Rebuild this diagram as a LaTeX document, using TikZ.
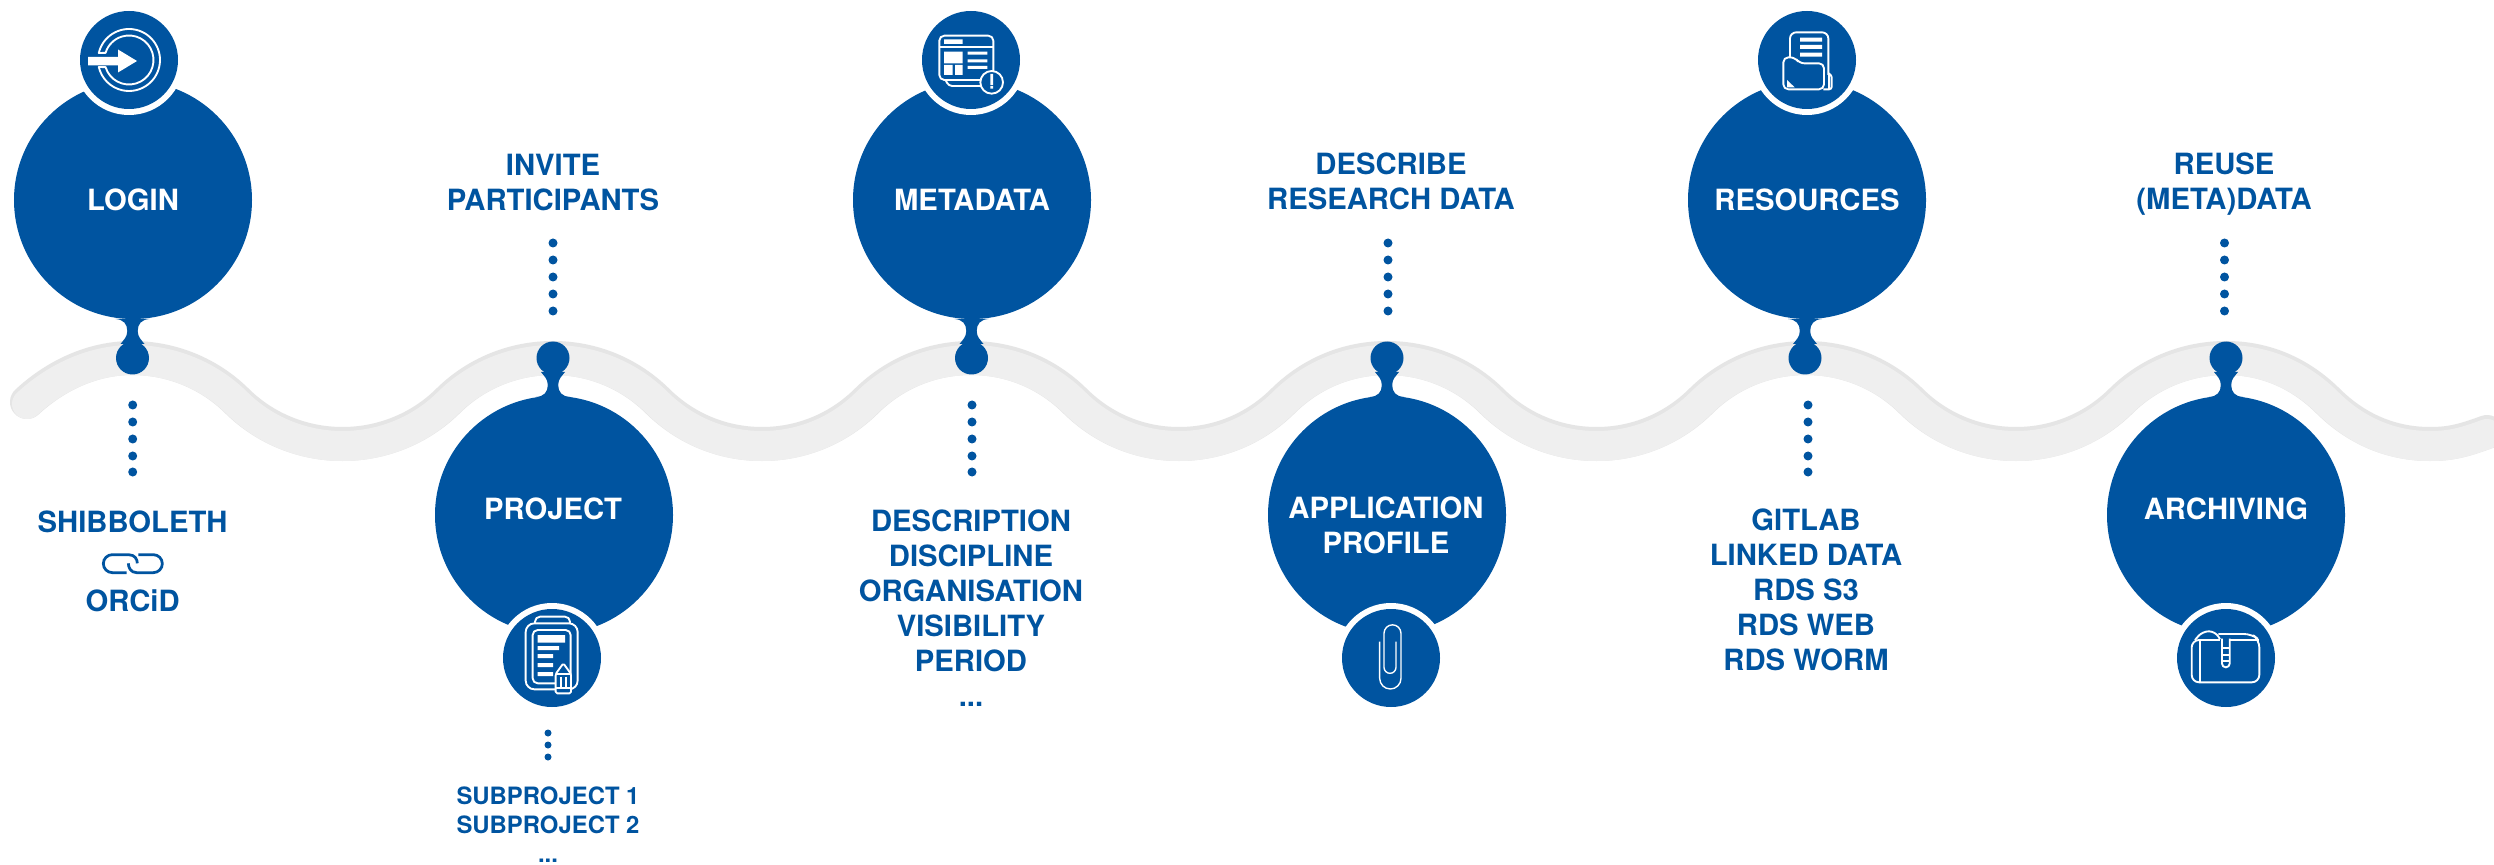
\documentclass[tikz,border=0pt]{standalone}
\usepackage{fontspec}
\setmainfont{TeX Gyre Heros}
\definecolor{brand}{HTML}{0054A0}
\definecolor{band}{HTML}{EFEFEF}
\definecolor{bandedge}{HTML}{E5E5E5}
\tikzset{
  bigdisc/.style={circle,fill=brand,minimum size=95.2pt,inner sep=0pt,text=white,align=center,
    font=\bfseries\fontsize{11.7}{14}\selectfont},
  ringdisc/.style={circle,fill=white,minimum size=44pt,inner sep=0pt},
  icondisc/.style={circle,fill=brand,minimum size=39.2pt,inner sep=0pt},
  disclabel/.style={text=white,align=center,inner sep=0pt,font=\bfseries\fontsize{11.7}{14}\selectfont},
  label/.style={text=brand,align=center,inner sep=0pt,font=\bfseries\fontsize{11.7}{14}\selectfont},
  smalllabel/.style={text=brand,align=center,inner sep=0pt,font=\bfseries\fontsize{9.55}{11.6}\selectfont},
  dotmark/.style={circle,fill=brand,minimum size=3.6pt,inner sep=0pt},
  smalldot/.style={circle,fill=brand,minimum size=2.8pt,inner sep=0pt},
  iconline/.style={draw=white,line width=0.75pt,line join=round},
  thinline/.style={draw=white,line width=0.55pt},
  neckblob/.pic={
    \fill[brand] (17,-39) .. controls (9,-38.5) and (5.2,-34) .. (5.2,-27)
      .. controls (5.2,-21) and (9,-18) .. (12,-14) -- (-12,-14)
      .. controls (-9,-18) and (-5.2,-21) .. (-5.2,-27)
      .. controls (-5.2,-34) and (-9,-38.5) .. (-17,-39) -- cycle;
    \fill[brand] (0,0) circle[radius=16.5];
  },
}
\def\wdown#1#2{ .. controls +(39.4,0) and +(-28,-27.7) .. (#1,401) .. controls +(28,27.7) and +(-39.4,0) .. (#2,444)}
\def\wup#1#2{ .. controls +(39.4,0) and +(-28,27.7) .. (#1,401) .. controls +(28,-27.7) and +(-39.4,0) .. (#2,358)}
\def\wavepath{(27,402) .. controls (55,376) and (92,358) .. (132,358)
  \wdown{237}{342.5} \wup{448}{553}
  \wdown{657.5}{762} \wup{866.5}{971}
  \wdown{1075}{1179} \wup{1283}{1387}
  \wdown{1491.75}{1596.5} \wup{1701}{1806}
  \wdown{1911}{2016} \wup{2121}{2226}
  \wdown{2328}{2430}
  .. controls +(22,0) and +(-22,8) .. (2487,432)}
\begin{document}
\begin{tikzpicture}[x=0.4pt,y=-0.4pt]
\useasboundingbox (0,0) rectangle (2494,865);
\fill[white] (0,0) rectangle (2494,865);
% wave
\draw[bandedge,line width=13.6pt,line cap=round] \wavepath;
\begin{scope}[shift={(0,2)}]
\draw[band,line width=12pt,line cap=round] \wavepath;
\end{scope}
% necks
\pic at (132.5,358) {neckblob};
\pic[yscale=-1] at (553,358) {neckblob};
\pic at (971.5,358) {neckblob};
\pic[yscale=-1] at (1387,358) {neckblob};
\pic at (1805,358) {neckblob};
\pic[yscale=-1] at (2226,358) {neckblob};
% discs
\node[bigdisc] (login) at (133,200) {LOGIN};
\node[bigdisc] (project) at (554,515) {};
\node[bigdisc] (metadata) at (972,200) {METADATA};
\node[bigdisc] (appprofile) at (1387,515) {};
\node[bigdisc] (resources) at (1807,200) {RESOURCES};
\node[bigdisc] (archiving) at (2226,515) {};
\node[disclabel] (projecttext) at (553,509) {PROJECT};
\node[disclabel] (apptext) at (1386,525.5) {APPLICATION\\PROFILE};
\node[disclabel] (archivingtext) at (2226,509) {ARCHIVING};
% icon discs
\foreach \n/\x/\y in {a/129/60,b/552/658,c/971/60,d/1391/658,e/1807/60,f/2226/658}{
  \node[ringdisc] (ring\n) at (\x,\y) {};
  \node[icondisc] (icon\n) at (\x,\y) {};
}
% login icon
\begin{scope}[shift={(129,60)}]
\draw[iconline] (193:31) arc[start angle=193,end angle=527,radius=31]
  -- (523:24.5) arc[start angle=523,end angle=197,radius=24.5] -- cycle;
\fill[white] (-41,-3) -- (-11,-3) -- (-11,-10.5) -- (8,1) -- (-11,12.5) -- (-11,5.5) -- (-41,5.5) -- cycle;
\end{scope}
% project icon
\begin{scope}[shift={(420,560)},scale=1/3]
\draw[iconline,rounded corners=3.5pt] (317,190) -- (473,190) -- (473,388) -- (317,388) -- cycle;
\draw[iconline,rounded corners=2pt] (345,190) -- (345,170) -- (450,170) -- (450,190);
\draw[iconline,rounded corners=2pt] (338,210) rectangle (452,370);
\fill[white] (353,225) rectangle (435,248) (353,258) rectangle (417,270) (353,282) rectangle (399,294)
  (353,309) rectangle (399,321) (353,336) rectangle (399,348);
\filldraw[iconline,fill=brand,rounded corners=0.6pt] (407,342) -- (430,310) -- (453,342) -- (453,400) -- (407,400) -- cycle;
\draw[iconline] (407,343) -- (453,343) (407,385) -- (453,385) (422,350) -- (422,380) (437,350) -- (437,380);
\end{scope}
% metadata icon
\begin{scope}[shift={(880,0)},scale=1/3]
\draw[iconline,rounded corners=2pt] (178,107) rectangle (340,240);
\draw[iconline] (178,140) -- (340,140);
\draw[iconline,rounded corners=1.5pt] (198,242) -- (205,258) -- (305,258);
\fill[white] (192,118) rectangle (248,132) (192,155) rectangle (248,190) (192,195) rectangle (218,225)
  (225,195) rectangle (248,225) (263,155) rectangle (322,164) (263,178) rectangle (322,187) (263,198) rectangle (322,207);
\filldraw[iconline,fill=brand] (335,247) circle[radius=34];
\fill[white] (331,222) rectangle (339,255) (331,258) rectangle (339,266);
\end{scope}
% paperclip icon
\begin{scope}[shift={(1310,590)},scale=1/3]
\draw[thinline,line cap=butt] (209,155) -- (209,265) arc[start angle=180,end angle=0,radius=32]
  -- (273,130) arc[start angle=360,end angle=180,radius=25.5]
  -- (222,232) arc[start angle=180,end angle=0,radius=18] -- (258,155);
\end{scope}
% resources icon
\begin{scope}[shift={(1730,0)},scale=1/3]
\draw[iconline,rounded corners=2.5pt] (180,175) -- (180,97) -- (295,97) -- (295,225);
\fill[white] (210,113) rectangle (276,125) (210,135) rectangle (276,147) (210,158) rectangle (276,170);
\draw[iconline,rounded corners=1pt] (295,220) -- (305,225) -- (305,268) -- (280,268);
\draw[iconline,line cap=butt] (296,220) -- (296,268);
\filldraw[iconline,fill=brand,rounded corners=2pt] (160,172) -- (195,172) -- (208,190) -- (282,190) -- (282,268) -- (160,268) -- cycle;
\fill[white] (171,240) -- (194,262) -- (171,262) -- cycle;
\end{scope}
% archiving icon
\begin{scope}[shift={(2140,590)},scale=1/3]
\draw[iconline,rounded corners=3pt] (178,150) -- (155,150) -- (155,277) -- (358,277) -- (358,150) -- (335,132) -- (235,132);
\draw[iconline,rounded corners=2.5pt] (165,150) -- (187,124) -- (226,124) -- (240,148);
\draw[iconline] (178,150) -- (240,150) (268,150) -- (358,150);
\draw[iconline,rounded corners=2pt] (180,150) -- (180,277);
\draw[iconline,rounded corners=1.5pt] (246,146) -- (246,232) -- (269,232) -- (269,146);
\draw[iconline] (246,173) -- (269,173) (246,194) -- (269,194) (246,214) -- (269,214);
\end{scope}
% dots
\foreach \n/\x in {a/132.7,b/972,c/1808}{
  \foreach \i/\y in {1/405,2/422,3/439,4/456,5/472}{
    \node[dotmark] (dot\n\i) at (\x,\y) {};
  }
}
\foreach \n/\x in {d/553,e/1388,f/2224.5}{
  \foreach \i/\y in {1/243,2/260,3/277,4/294,5/311}{
    \node[dotmark] (dot\n\i) at (\x,\y) {};
  }
}
\foreach \i/\y in {1/733,2/745,3/757}{
  \node[smalldot] (dotg\i) at (548,\y) {};
}
% labels
\node[label] (invite) at (553,182.5) {INVITE\\PARTICIPANTS};
\node[label] (describe) at (1391,181.5) {DESCRIBE\\RESEARCH DATA};
\node[label] (reuse) at (2224,184) {REUSE\\(META)DATA};
\node[label] (shib) at (132.6,522) {SHIBBOLETH};
\node[label] (orcid) at (132.6,601) {ORCiD};
\node[label] (metalist) at (971,608) {DESCRIPTION\\DISCIPLINE\\ORGANISATION\\VISIBILITY\\PERIOD\\...};
\node[label] (reslist) at (1806,590) {GITLAB\\LINKED DATA\\RDS S3\\RDS WEB\\RDS WORM};
\node[smalllabel,anchor=north] (sublist) at (548,786) {SUBPROJECT 1\\SUBPROJECT 2\\...};
% link icon
\begin{scope}[shift={(0,400)},scale=1/3]
\draw[brand,line width=1.1pt] (380,518) -- (337,518) arc[start angle=90,end angle=270,radius=27]
  -- (385,464) .. controls (405,464) and (412,478) .. (412,490);
\draw[brand,line width=1.1pt] (415,464) -- (460,464) arc[start angle=-90,end angle=90,radius=27]
  -- (410,518) .. controls (392,518) and (385,502) .. (385,490);
\end{scope}
\end{tikzpicture}
\end{document}
